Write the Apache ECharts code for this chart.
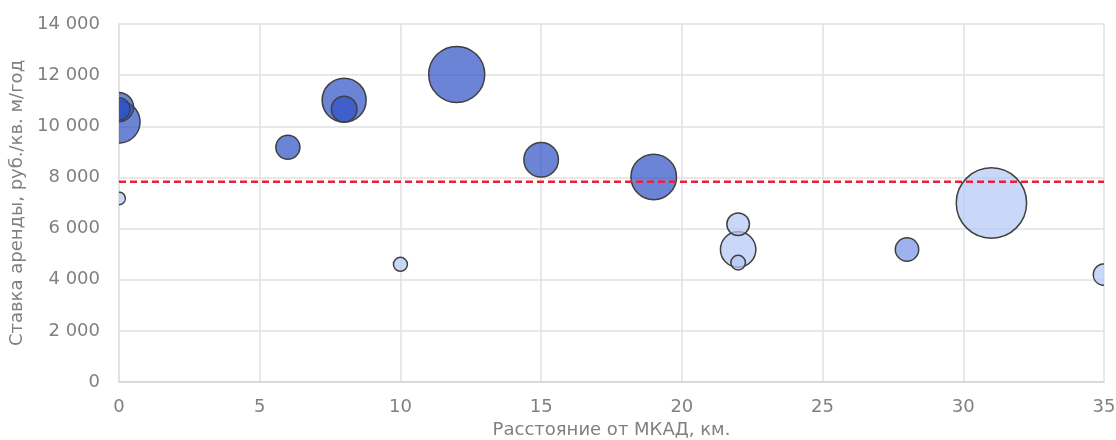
<!DOCTYPE html>
<html>
<head>
<meta charset="utf-8">
<script src="https://cdn.jsdelivr.net/npm/echarts@6/dist/echarts.min.js"></script>
<style>
html,body{margin:0;padding:0;background:#fff;}
#chart{width:1116px;height:440px;}
</style>
</head>
<body>
<div id="chart"></div>
<script>
// Distance from MKAD, km
const distanceKm = [0, 0, 0, 0, 6, 8, 8, 10, 12, 15, 19, 22, 22, 22, 28, 31, 35];
// Rent rate, rub / sq.m / year
const rentRate = [10170, 10750, 10680, 7180, 9180, 11020, 10670, 4600, 12030, 8690, 8020, 5180, 6170, 4670, 5180, 7000, 4200];
// Bubble size (relative volume)
const bubbleSize = [36, 17.2, 9.9, 3.2, 11.8, 39.5, 13.4, 4, 64, 24.4, 42.4, 25.6, 10.4, 4.35, 11.2, 101, 9.3];
// Group of each bubble: 0 = dark, 1 = medium, 2 = light
const bubbleGroup = [0, 0, 0, 2, 0, 0, 0, 2, 0, 0, 0, 2, 2, 2, 1, 2, 2];
// Average rent rate line
const averageRate = 7830;
const xTicks = {min: 0, max: 35, interval: 5};
const yTicks = {min: 0, max: 14000, interval: 2000};
const xTitle = 'Расстояние от МКАД, км.';
const yTitle = 'Ставка аренды, руб./кв. м/год';

const groupFill = ['rgba(44,80,197,0.7)', 'rgba(115,146,231,0.7)', 'rgba(178,199,245,0.7)'];
const R_SCALE = 3.5;
const FONT = '"DejaVu Sans", Verdana, sans-serif';
const GREY = '#808080';
const STROKE = '#404040';

const bubbleData = distanceKm.map((x, i) => [x, rentRate[i], bubbleSize[i], bubbleGroup[i]]);

function fmt(v) {
  return String(v).replace(/\B(?=(\d{3})+(?!\d))/g, '\u00a0');
}

// Circle clipped to the plot's [L, R]: fill polygon points and visible outline runs
function clippedCircle(cx, cy, r, L, R) {
  const N = 180;
  const poly = [];
  const runs = [];
  let run = [];
  for (let k = 0; k <= N; k++) {
    const a = (k / N) * Math.PI * 2;
    const x = cx + r * Math.cos(a);
    const y = cy + r * Math.sin(a);
    if (k < N) poly.push([Math.min(Math.max(x, L), R), y]);
    if (x >= L && x <= R) {
      run.push([x, y]);
    } else if (run.length) {
      runs.push(run); run = [];
    }
  }
  if (run.length) runs.push(run);
  if (runs.length > 1) {
    const first = runs[0], last = runs[runs.length - 1];
    const lp = last[last.length - 1];
    if (Math.abs(first[0][0] - lp[0]) < 1e-6 && Math.abs(first[0][1] - lp[1]) < 1e-6) {
      runs[0] = last.concat(first.slice(1));
      runs.pop();
    }
  }
  return {poly: poly, runs: runs};
}

const chart = echarts.init(document.getElementById('chart'), null, {renderer: 'canvas'});
chart.setOption({
  animation: false,
  backgroundColor: '#ffffff',
  grid: {left: 119, right: 12, top: 24, bottom: 58, containLabel: false, outerBoundsMode: 'none'},
  xAxis: {
    type: 'value', min: xTicks.min, max: xTicks.max, interval: xTicks.interval,
    name: xTitle, nameLocation: 'middle', nameGap: 39,
    nameTextStyle: {fontFamily: FONT, fontSize: 18, color: GREY},
    axisLine: {show: true, lineStyle: {color: '#d4d4d4', width: 1.5}},
    axisTick: {show: false},
    axisLabel: {fontFamily: FONT, fontSize: 18, color: GREY, margin: 16},
    splitLine: {show: true, lineStyle: {color: '#e0e0e0', width: 1.5}}
  },
  yAxis: {
    type: 'value', min: yTicks.min, max: yTicks.max, interval: yTicks.interval,
    name: yTitle, nameLocation: 'middle', nameGap: 92,
    nameTextStyle: {fontFamily: FONT, fontSize: 18, color: GREY},
    axisLine: {show: true, lineStyle: {color: '#e0e0e0', width: 1.5}},
    axisTick: {show: false},
    axisLabel: {fontFamily: FONT, fontSize: 18, color: GREY, margin: 19, formatter: fmt},
    splitLine: {show: true, lineStyle: {color: '#e0e0e0', width: 1.5}}
  },
  series: [
    {
      type: 'custom',
      data: bubbleData,
      renderItem: function (params, api) {
        const p = api.coord([api.value(0), api.value(1)]);
        const L = api.coord([xTicks.min, api.value(1)])[0];
        const R = api.coord([xTicks.max, api.value(1)])[0];
        const r = R_SCALE * Math.sqrt(api.value(2));
        const fill = groupFill[api.value(3)];
        if (p[0] - r >= L && p[0] + r <= R) {
          return {
            type: 'circle',
            shape: {cx: p[0], cy: p[1], r: r},
            style: {fill: fill, stroke: STROKE, lineWidth: 1.5}
          };
        }
        const c = clippedCircle(p[0], p[1], r, L, R);
        const children = [{type: 'polygon', shape: {points: c.poly}, style: {fill: fill, stroke: null}}];
        c.runs.forEach(function (run) {
          children.push({type: 'polyline', shape: {points: run}, style: {fill: null, stroke: STROKE, lineWidth: 1.5}});
        });
        return {type: 'group', children: children};
      },
      z: 2
    },
    {
      type: 'line',
      data: [[xTicks.min, averageRate], [xTicks.max, averageRate]],
      symbol: 'none',
      lineStyle: {color: '#ee1d38', width: 2.5, type: [7, 4]},
      z: 3
    }
  ]
});
</script>
</body>
</html>
